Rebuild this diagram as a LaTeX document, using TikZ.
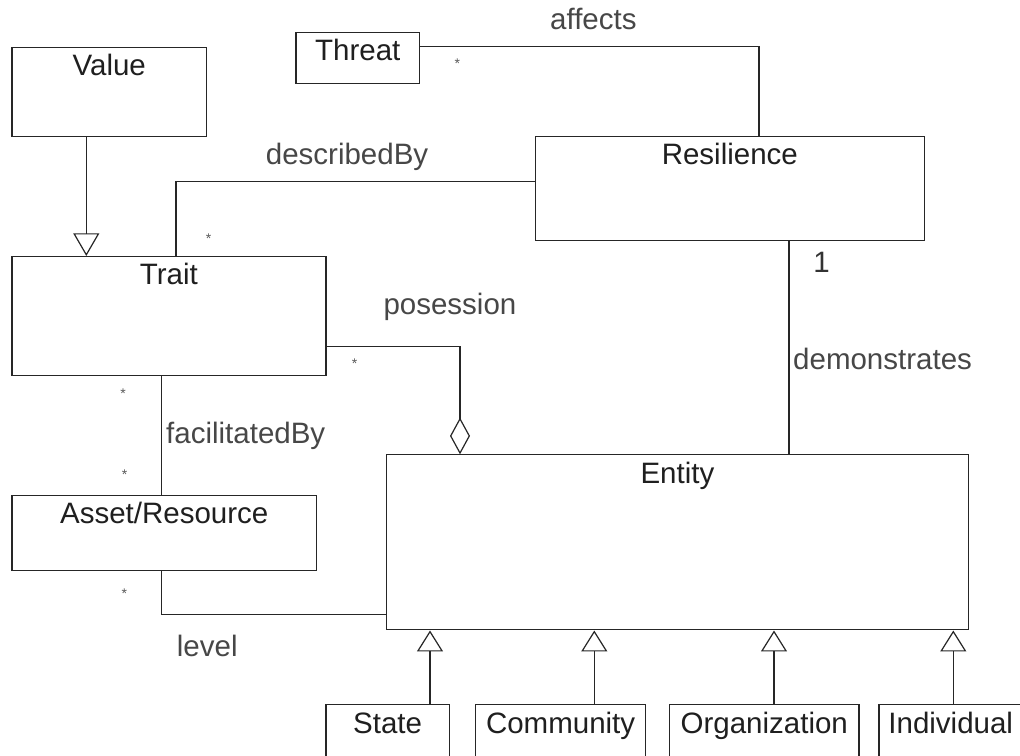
\documentclass[tikz,border=0pt]{standalone}
\usepackage{fontspec}
\setmainfont{Liberation Sans}
\usetikzlibrary{arrows.meta,calc}
\begin{document}
\begin{tikzpicture}[x=1pt,y=1pt,
  cls/.style={draw=black!85, line width=1.2pt, rectangle, inner sep=0pt, anchor=north west},
  ttl/.style={anchor=base, inner sep=0pt, text=black!88, font=\fontsize{29.5}{30}\selectfont},
  lbl/.style={anchor=base west, inner sep=0pt, text=black!72, font=\fontsize{29.5}{30}\selectfont},
  mult/.style={anchor=base, inner sep=0pt, text=black!65, font=\fontsize{14}{14}\selectfont},
  conn/.style={draw=black!85, line width=1.2pt},
  genup/.style={conn, -{Triangle[open, length=21pt, width=26pt, line width=1.2pt]}},
  gendown/.style={conn, -{Triangle[open, length=22.7pt, width=26pt, line width=1.2pt]}},
  agg/.style={conn, -{Diamond[open, length=36.7pt, width=20pt, line width=1.2pt]}}
]
\clip (0,0) rectangle (1020,755);
\fill[white] (0,0) rectangle (1020,755);

% classes
\node[cls, minimum width=194.7, minimum height=89.3] (value) at (11.3,708.3) {};
\node[ttl] at ($(value.north)+(0,-29)$) {Value};
\node[cls, minimum width=123.7, minimum height=51.6] (threat) at (295.3,723.3) {};
\node[ttl] at ($(threat.north)+(0,-29)$) {Threat};
\node[cls, minimum width=389, minimum height=104.3] (resilience) at (534.7,619) {};
\node[ttl] at ($(resilience.north)+(0,-29)$) {Resilience};
\node[cls, minimum width=314, minimum height=119.3] (trait) at (11.3,499) {};
\node[ttl] at ($(trait.north)+(0,-29)$) {Trait};
\node[cls, minimum width=304.7, minimum height=75] (asset) at (11.3,260) {};
\node[ttl] at ($(asset.north)+(0,-29)$) {Asset/Resource};
\node[cls, minimum width=582.3, minimum height=175] (entity) at (385.7,300.7) {};
\node[ttl] at ($(entity.north)+(0,-29)$) {Entity};
\node[cls, minimum width=123.4, minimum height=80] (state) at (325.3,50.7) {};
\node[ttl] at ($(state.north)+(0,-29)$) {State};
\node[cls, minimum width=170, minimum height=80] (community) at (475,50.7) {};
\node[ttl] at ($(community.north)+(0,-29)$) {Community};
\node[cls, minimum width=189.3, minimum height=80] (organization) at (669,50.7) {};
\node[ttl] at ($(organization.north)+(0,-29)$) {Organization};
\node[cls, minimum width=143.7, minimum height=80] (individual) at (878.3,50.7) {};
\node[ttl] at ($(individual.north)+(0,-29)$) {Individual};

% connectors
\draw[gendown] ($(value.south west)+(75,0)$) -- ($(trait.north west)+(75,0)$);
\draw[conn] ($(threat.east)+(0,11.5)$) -| ($(resilience.north west)+(224.3,0)$);
\draw[conn] ($(resilience.west)+(0,7)$) -| ($(trait.north west)+(164.7,0)$);
\draw[agg] ($(trait.east)+(0,-30)$) -| ($(entity.north west)+(74.3,0)$);
\draw[conn] ($(trait.south west)+(150,0)$) -- ($(asset.north west)+(150,0)$);
\draw[conn] ($(asset.south west)+(150,0)$) |- ($(entity.west)+(0,-72.5)$);
\draw[conn] ($(resilience.south west)+(254.3,0)$) -- ($(entity.north west)+(403.3,0)$);
\draw[genup] ($(state.north west)+(104.7,0)$) -- ($(entity.south west)+(44.3,0)$);
\draw[genup] ($(community.north west)+(119.3,0)$) -- ($(entity.south west)+(208.6,0)$);
\draw[genup] ($(organization.north west)+(105,0)$) -- ($(entity.south west)+(388.3,0)$);
\draw[genup] ($(individual.north west)+(75,0)$) -- ($(entity.south west)+(567.6,0)$);

% association labels
\node[lbl] (laffects) at (550,725) {affects};
\node[lbl] (ldescribed) at (265.7,590) {describedBy};
\node[lbl] (lposession) at (383.3,440) {posession};
\node[lbl] (lfacil) at (166,311.7) {facilitatedBy};
\node[lbl] (ldemo) at (793,385) {demonstrates};
\node[lbl] (llevel) at (176.7,98.3) {level};
\node[anchor=base, inner sep=0pt, text=black!80, font=\fontsize{29.5}{30}\selectfont] (lone) at (821.5,482) {1};

% multiplicities
\node[mult] (m1) at (457.3,686) {*};
\node[mult] (m2) at (208.7,511.5) {*};
\node[mult] (m3) at (354.7,386) {*};
\node[mult] (m4) at (123,356.8) {*};
\node[mult] (m5) at (124.7,275.8) {*};
\node[mult] (m6) at (124.3,156.1) {*};
\end{tikzpicture}
\end{document}
